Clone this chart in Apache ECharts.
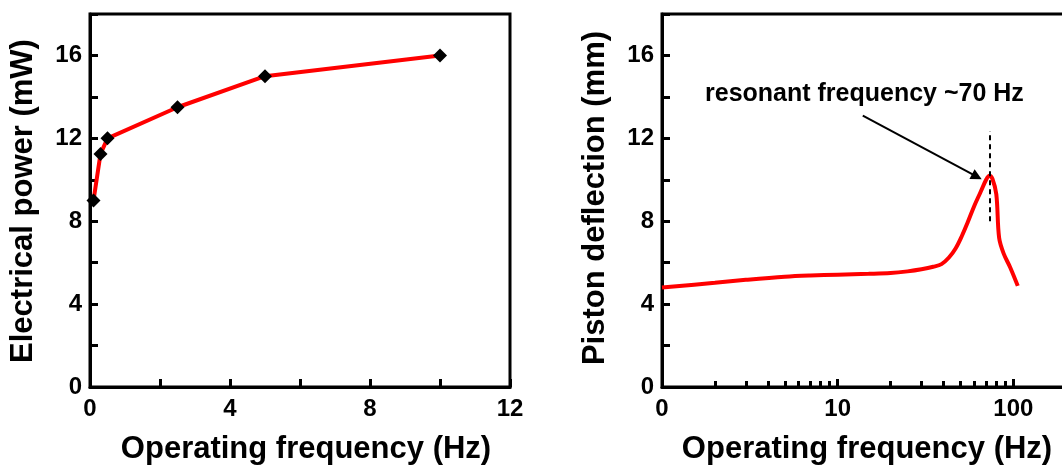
<!DOCTYPE html>
<html>
<head>
<meta charset="utf-8">
<script src="https://cdn.jsdelivr.net/npm/echarts@6/dist/echarts.min.js"></script>
<style>
  html, body { margin: 0; padding: 0; background: #fff; }
  #chart { width: 1062px; height: 469px; }
</style>
</head>
<body>
<div id="chart"></div>
<script>
// Left panel: electrical power vs. operating frequency (measured points)
const powerFreqHz = [0.1, 0.3, 0.5, 2.5, 5, 10];
const powerMilliW = [9.0, 11.25, 12.0, 13.5, 15.0, 16.0];

// Right panel: piston deflection vs. operating frequency (log frequency axis)
const deflFreqHz = [1, 2, 3, 5, 7, 10, 15, 20, 25, 30, 35, 39, 43, 47, 51, 55, 60, 65, 70, 73, 76, 80, 83, 88, 96, 106];
const deflMm = [4.8, 5.03, 5.17, 5.32, 5.38, 5.42, 5.46, 5.5, 5.58, 5.68, 5.8, 5.93, 6.25, 6.7, 7.3, 7.95, 8.75, 9.4, 10.0, 10.2, 10.05, 9.3, 7.2, 6.45, 5.77, 4.88];

// Resonance annotation
const resonanceHz = 73;
const resonanceDash = [8.0, 12.35];
const arrowFrom = [13.9, 13.1];
const arrowTo = [62, 10.15];
const annotationText = 'resonant frequency ~70 Hz';

// Tick labels
const yTicks = [0, 4, 8, 12, 16];
const leftXTicks = [0, 4, 8, 12];
const logMajor = [1, 10, 100, 1000];
const logMinor = [2, 3, 4, 5, 6, 7, 8, 9, 20, 30, 40, 50, 60, 70, 80, 90, 200, 300, 400, 500, 600, 700, 800, 900];
const logLabels = [1, 10, 100];

const FONT = '"Liberation Sans", Arial, sans-serif';
const chart = echarts.init(document.getElementById('chart'), null, { renderer: 'canvas' });

const labelStyle = { color: '#000', fontFamily: FONT, fontWeight: 'bold', fontSize: 24 };
const tickStyle = { show: true, inside: true, length: 8, lineStyle: { color: '#000', width: 3 } };

function yAxisDef(gridIndex) {
  return {
    type: 'value', gridIndex: gridIndex, min: 0, max: 18, interval: 2,
    axisLine: { show: true, lineStyle: { color: '#000', width: 3 } },
    axisTick: tickStyle,
    axisLabel: Object.assign({ margin: 8, customValues: yTicks }, labelStyle),
    splitLine: { show: false }
  };
}

const option = {
  animation: false,
  backgroundColor: '#fff',
  grid: [
    { left: 90, top: 14, width: 420, height: 373, show: true, borderColor: '#000', borderWidth: 3,
      backgroundColor: 'transparent', containLabel: false, outerBoundsMode: 'none' },
    // the right frame runs past the canvas edge; one decade spans ~175 px
    { left: 662, top: 14, width: 527, height: 373, show: true, borderColor: '#000', borderWidth: 3,
      backgroundColor: 'transparent', containLabel: false, outerBoundsMode: 'none' }
  ],
  xAxis: [
    {
      type: 'value', gridIndex: 0, min: 0, max: 12, interval: 2,
      axisLine: { show: true, lineStyle: { color: '#000', width: 3 } },
      axisTick: tickStyle,
      axisLabel: Object.assign({ margin: 10, customValues: leftXTicks }, labelStyle),
      splitLine: { show: false }
    },
    {
      type: 'log', logBase: 10, gridIndex: 1, min: 1, max: 1000,
      axisLine: { show: true, lineStyle: { color: '#000', width: 3 } },
      axisTick: { show: true, inside: true, length: 6, customValues: logMinor, lineStyle: { color: '#000', width: 3 } },
      axisLabel: Object.assign({
        margin: 10, customValues: logLabels,
        formatter: function (v) { return v === 1 ? '0' : String(v); }
      }, labelStyle),
      splitLine: { show: false }
    },
    {
      type: 'log', logBase: 10, gridIndex: 1, min: 1, max: 1000, position: 'bottom',
      axisLine: { show: false },
      axisTick: { show: true, inside: true, length: 8, customValues: logMajor, lineStyle: { color: '#000', width: 3 } },
      axisLabel: { show: false },
      splitLine: { show: false }
    }
  ],
  yAxis: [yAxisDef(0), yAxisDef(1)],
  series: [
    {
      type: 'line', xAxisIndex: 0, yAxisIndex: 0, clip: false,
      data: powerFreqHz.map((f, i) => [f, powerMilliW[i]]),
      lineStyle: { color: '#ff0000', width: 4 },
      symbol: 'diamond', symbolSize: 14,
      itemStyle: { color: '#000' }
    },
    {
      type: 'line', xAxisIndex: 1, yAxisIndex: 1,
      data: deflFreqHz.map((f, i) => [f, deflMm[i]]),
      smooth: 0.35,
      lineStyle: { color: '#ff0000', width: 4 },
      showSymbol: false, symbol: 'none',
      markLine: {
        silent: true, animation: false,
        symbol: ['none', 'none'],
        label: { show: false },
        data: [
          [
            { coord: [resonanceHz, resonanceDash[0]], lineStyle: { color: '#000', width: 2, type: [5, 4] } },
            { coord: [resonanceHz, resonanceDash[1]] }
          ],
          [
            { coord: arrowFrom, symbol: 'none', lineStyle: { color: '#000', width: 2, type: 'solid' } },
            { coord: arrowTo, symbol: 'triangle', symbolSize: 11 }
          ]
        ]
      }
    }
  ],
  graphic: [
    {
      type: 'text', left: 705, top: 82,
      style: { text: annotationText, fill: '#000', font: 'bold 25px ' + FONT }
    },
    {
      type: 'text', x: 306, y: 449,
      style: { text: 'Operating frequency (Hz)', fill: '#000', font: 'bold 31px ' + FONT, align: 'center', verticalAlign: 'middle' }
    },
    {
      type: 'text', x: 867, y: 449,
      style: { text: 'Operating frequency (Hz)', fill: '#000', font: 'bold 31px ' + FONT, align: 'center', verticalAlign: 'middle' }
    },
    {
      type: 'text', x: 23, y: 201, rotation: Math.PI / 2,
      style: { text: 'Electrical power (mW)', fill: '#000', font: 'bold 31px ' + FONT, align: 'center', verticalAlign: 'middle' }
    },
    {
      type: 'text', x: 595, y: 198, rotation: Math.PI / 2,
      style: { text: 'Piston deflection (mm)', fill: '#000', font: 'bold 31px ' + FONT, align: 'center', verticalAlign: 'middle' }
    }
  ]
};

chart.setOption(option);
</script>
</body>
</html>
